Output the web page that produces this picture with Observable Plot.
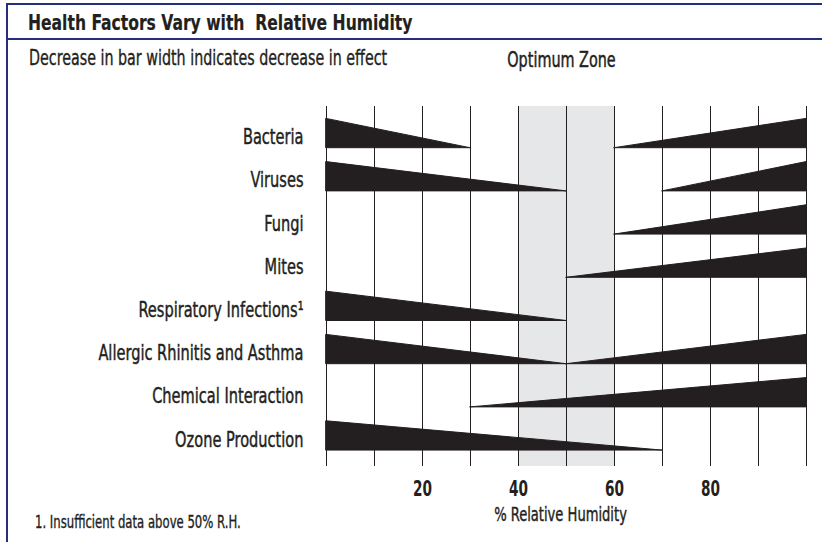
<!DOCTYPE html>
<html>
<head>
<meta charset="utf-8">
<script src="https://cdn.jsdelivr.net/npm/d3@7"></script>
<script src="https://cdn.jsdelivr.net/npm/@observablehq/plot@0.6"></script>
<style>
  body { margin: 0; background: #fff; }
  #wrap {
    position: relative; width: 822px; height: 542px; overflow: hidden; background: #fff;
    font-family: "Liberation Sans Narrow", "DejaVu Sans Condensed", "DejaVu Sans", sans-serif;
    font-stretch: condensed; color: #231f20;
  }
  .rule { position: absolute; background: #262f7c; }
  #chart { position: absolute; left: 0; top: 0; }
  .txt { position: absolute; white-space: pre; transform-origin: 0 0; -webkit-text-stroke: 0.35px #231f20; }
  #title { left: 28px; top: 12px; font-size: 22px; line-height: 22px; font-weight: bold; transform: scaleX(0.787); -webkit-text-stroke: 0.2px #231f20; }
  #sub { left: 29px; top: 48px; font-size: 21px; line-height: 21px; transform: scaleX(0.756); }
  #foot { left: 35px; top: 514px; font-size: 17px; line-height: 17px; transform: scaleX(0.763); }
</style>
</head>
<body>
<div id="wrap">
  <div id="chart"></div>
  <div class="rule" style="left:6px; top:3px; width:2px; height:539px;"></div>
  <div class="rule" style="left:6px; top:3px; width:816px; height:2px;"></div>
  <div class="rule" style="left:6px; top:38px; width:816px; height:2px;"></div>
  <div class="txt" id="title"></div>
  <div class="txt" id="sub"></div>
  <div class="txt" id="foot"></div>
</div>
<script>
// ---- Data ----
const titleText = "Health Factors Vary with  Relative Humidity";
const subtitleText = "Decrease in bar width indicates decrease in effect";
const zoneLabel = "Optimum Zone";
const axisLabel = "% Relative Humidity";
const footnoteText = "1. Insufficient data above 50% R.H.";

const factors = [
  "Bacteria",
  "Viruses",
  "Fungi",
  "Mites",
  "Respiratory Infections\u00B9",
  "Allergic Rhinitis and Asthma",
  "Chemical Interaction",
  "Ozone Production"
];
// Low-humidity wedge: full effect at 0% RH, tapering to none at this RH
const lowEnd    = [30, 50, null, null, 50, 50, null, 70];
// High-humidity wedge: no effect at this RH, growing to full effect at 100% RH
const highStart = [60, 70, 60, 50, null, 50, 30, null];
const gridRH = [0, 10, 20, 30, 40, 50, 60, 70, 80, 90, 100];
const tickRH = [20, 40, 60, 80];
const optimum = [40, 60];

document.getElementById("title").textContent = titleText;
document.getElementById("sub").textContent = subtitleText;
document.getElementById("foot").textContent = footnoteText;

// ---- Layout constants (row units on the y scale) ----
const ROWS_SPAN = 360 / 43.2;   // frame height expressed in rows
const BASE = 0.965;             // baseline of a row within its slot
const FULL = 0.678;             // full-effect wedge thickness

const wedges = [];
factors.forEach((f, i) => {
  if (lowEnd[i] != null) {
    wedges.push({id: f + "-low", row: i, x: 0, e: 1}, {id: f + "-low", row: i, x: lowEnd[i], e: 0});
  }
  if (highStart[i] != null) {
    wedges.push({id: f + "-high", row: i, x: highStart[i], e: 0}, {id: f + "-high", row: i, x: 100, e: 1});
  }
});

const ink = "#231f20";
const font = "'Liberation Sans Narrow', 'DejaVu Sans Condensed', 'DejaVu Sans', sans-serif";
const zoneCenter = (optimum[0] + optimum[1]) / 2;

const chart = Plot.plot({
  width: 822,
  height: 542,
  marginLeft: 326,
  marginRight: 16,
  marginTop: 106,
  marginBottom: 76,
  x: {domain: [0, 100], axis: null},
  y: {domain: [0, ROWS_SPAN], reverse: true, axis: null},
  style: {fontFamily: font, fontStretch: "condensed", background: "transparent", color: ink, overflow: "visible"},
  marks: [
    Plot.rect([optimum], {x1: d => d[0], x2: d => d[1], fill: "#e6e7e8"}),
    Plot.ruleX(gridRH, {x: d => d, stroke: ink, strokeWidth: 1}),
    Plot.areaY(wedges, {
      x: "x",
      y1: d => d.row + BASE,
      y2: d => d.row + BASE - FULL * d.e,
      z: "id",
      fill: ink,
      stroke: ink,
      strokeWidth: 1
    }),
    Plot.text(factors, {
      x: () => 0,
      y: (d, i) => i + BASE,
      text: d => d,
      textAnchor: "end",
      lineAnchor: "bottom",
      dx: -23,
      dy: -4,
      fontSize: 22,
      fill: ink,
      stroke: ink,
      strokeWidth: 0.45
    }),
    Plot.text(tickRH, {
      x: d => d,
      text: d => String(d),
      frameAnchor: "bottom",
      lineAnchor: "bottom",
      dy: 29,
      fontSize: 22,
      fontWeight: "bold",
      fill: ink
    }),
    Plot.text([axisLabel], {
      x: () => zoneCenter,
      text: d => d,
      frameAnchor: "bottom",
      lineAnchor: "bottom",
      dx: -6,
      dy: 54,
      fontSize: 19,
      fill: ink,
      stroke: ink,
      strokeWidth: 0.4
    }),
    Plot.text([zoneLabel], {
      x: () => zoneCenter,
      text: d => d,
      frameAnchor: "top",
      lineAnchor: "bottom",
      dx: -5,
      dy: -40,
      fontSize: 21,
      fill: ink,
      stroke: ink,
      strokeWidth: 0.45
    })
  ]
});

// Condense the glyphs horizontally to mimic the reference's condensed typeface
const squeezeBy = [0.737, 0.69, 0.766, 0.762];
chart.querySelectorAll('g[aria-label="text"]').forEach((g, k) => {
  const s = squeezeBy[k] ?? 0.77;
  g.querySelectorAll("text").forEach(t => {
    const tr = t.getAttribute("transform");
    if (tr) {
      t.setAttribute("transform", tr + ` scale(${s},1)`);
    } else {
      const x = +t.getAttribute("x") || 0, y = +t.getAttribute("y") || 0;
      t.removeAttribute("x"); t.removeAttribute("y");
      t.setAttribute("transform", `translate(${x},${y}) scale(${s},1)`);
    }
  });
});
document.getElementById("chart").appendChild(chart);
</script>
</body>
</html>
